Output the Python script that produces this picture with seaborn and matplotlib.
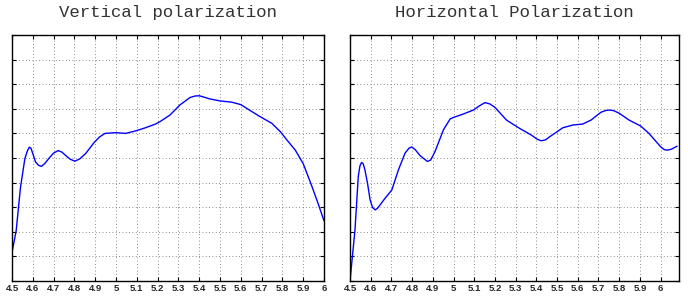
import matplotlib
matplotlib.use("Agg")
import matplotlib.pyplot as plt
import seaborn as sns
import pandas as pd

# Vertical polarization (left)
v_freq = [4.5, 4.52, 4.541, 4.562, 4.574, 4.583, 4.591, 4.6, 4.613, 4.628, 4.642, 4.658,
          4.677, 4.7, 4.722, 4.74, 4.757, 4.78, 4.802, 4.825, 4.854, 4.894, 4.92, 4.947,
          4.998, 5.046, 5.094, 5.142, 5.19, 5.212, 5.26, 5.308, 5.356, 5.38, 5.4, 5.425,
          5.452, 5.5, 5.556, 5.6, 5.645, 5.693, 5.749, 5.79, 5.822, 5.862, 5.9, 5.94,
          5.972, 6.0]
v_val = [1.16, 2.04, 3.82, 4.98, 5.29, 5.44, 5.40, 5.18, 4.84, 4.70, 4.66, 4.78,
         4.98, 5.20, 5.30, 5.24, 5.11, 4.95, 4.87, 4.96, 5.18, 5.62, 5.85, 6.0,
         6.03, 6.0, 6.1, 6.23, 6.38, 6.48, 6.75, 7.16, 7.46, 7.52, 7.53, 7.47,
         7.40, 7.32, 7.27, 7.17, 6.93, 6.68, 6.41, 6.07, 5.73, 5.32, 4.77, 3.89,
         3.14, 2.45]

# Horizontal polarization (right)
h_freq = [4.5, 4.524, 4.54, 4.548, 4.556, 4.564, 4.572, 4.585, 4.597, 4.609, 4.621,
          4.632, 4.645, 4.669, 4.702, 4.734, 4.766, 4.785, 4.798, 4.815, 4.839, 4.874,
          4.89, 4.911, 4.952, 4.984, 5.0, 5.048, 5.096, 5.125, 5.152, 5.175, 5.2,
          5.256, 5.32, 5.376, 5.405, 5.424, 5.445, 5.464, 5.528, 5.576, 5.624, 5.664,
          5.712, 5.735, 5.755, 5.775, 5.8, 5.848, 5.904, 5.944, 6.0, 6.018, 6.032,
          6.05, 6.08]
h_val = [0.0, 2.07, 4.25, 4.68, 4.82, 4.76, 4.52, 3.95, 3.30, 2.99, 2.89,
         2.95, 3.09, 3.36, 3.70, 4.52, 5.20, 5.40, 5.45, 5.34, 5.09, 4.86,
         4.92, 5.27, 6.16, 6.59, 6.65, 6.79, 6.95, 7.12, 7.25, 7.20, 7.06,
         6.54, 6.20, 5.93, 5.76, 5.70, 5.74, 5.86, 6.23, 6.34, 6.38, 6.54,
         6.86, 6.93, 6.95, 6.92, 6.82, 6.54, 6.30, 6.0, 5.46, 5.34, 5.32,
         5.35, 5.48]

x_ticks = [4.5, 4.6, 4.7, 4.8, 4.9, 5.0, 5.1, 5.2, 5.3, 5.4, 5.5, 5.6, 5.7, 5.8, 5.9, 6.0]
x_tick_labels = ["4.5", "4.6", "4.7", "4.8", "4.9", "5", "5.1", "5.2", "5.3", "5.4",
                 "5.5", "5.6", "5.7", "5.8", "5.9", "6"]
y_ticks = list(range(0, 11))
titles = ["Vertical polarization", "Horizontal Polarization"]

sns.set_style("white")

fig = plt.figure(figsize=(6.88, 2.98), dpi=100)
ax1 = fig.add_axes([12/688, 1 - 281/298, (324 - 12)/688, (281 - 35)/298])
ax2 = fig.add_axes([350/688, 1 - 281/298, (679 - 350)/688, (281 - 35)/298])

dfs = [pd.DataFrame({"f": v_freq, "v": v_val}), pd.DataFrame({"f": h_freq, "v": h_val})]
xlims = [(4.5, 6.0), (4.5, 6.089)]

for ax, df, title, xl in zip([ax1, ax2], dfs, titles, xlims):
    sns.lineplot(data=df, x="f", y="v", ax=ax, color="#0000ff", linewidth=1.0)
    ax.set_xlim(*xl)
    ax.set_ylim(0, 10)
    ax.set_xticks(x_ticks)
    ax.set_xticklabels(x_tick_labels, fontfamily="Liberation Sans", fontweight="bold", fontsize=6.8)
    ax.set_yticks(y_ticks)
    ax.set_yticklabels([])
    ax.set_xlabel("")
    ax.set_ylabel("")
    ax.grid(True, linestyle=(0, (1, 3)), color="#666666", linewidth=0.6)
    ax.tick_params(axis="both", direction="in", length=3, width=0.8, color="black",
                   top=True, right=True, bottom=True, left=True, pad=2)
    for s in ax.spines.values():
        s.set_color("black")
        s.set_linewidth(1.0)
        s.set_visible(True)
    ax.set_title(title, fontfamily="Liberation Mono", fontsize=12.5, color="#333333", pad=13)

fig.savefig("out.png", dpi=100)
